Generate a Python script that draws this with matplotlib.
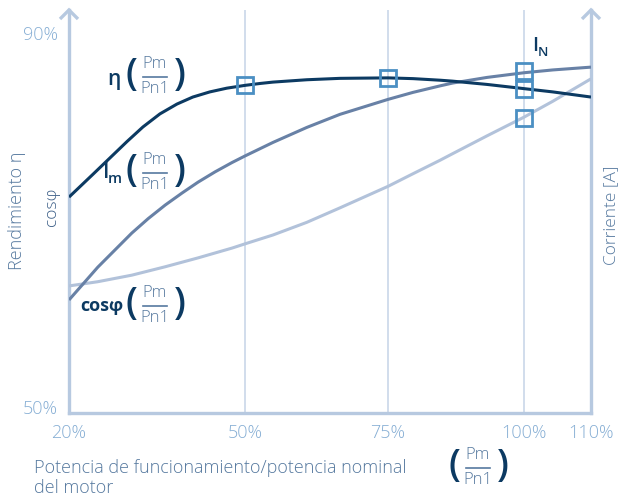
import numpy as np
import matplotlib
matplotlib.use("Agg")
import matplotlib.pyplot as plt
from matplotlib.lines import Line2D

plt.rcParams['font.family'] = ['Open Sans', 'DejaVu Sans']

# ---- data -------------------------------------------------------------
x_ticks = [20, 50, 75, 100, 110]
x_tick_labels = ["20%", "50%", "75%", "100%", "110%"]
y_ticks = [50, 90]
y_tick_labels = ["50%", "90%"]

eta_x = [20, 24.1, 27.0, 29.9, 32.6, 35.5, 38.4, 41.1, 44.0, 46.9, 50, 52.6,
         54.9, 60.8, 66.6, 75, 79.6, 84.6, 86.9, 93.2, 100, 104.3, 110]
eta_y = [72.45, 74.9, 76.65, 78.4, 79.95, 81.35, 82.4, 83.15, 83.7, 84.1, 84.4, 84.6,
         84.75, 85.0, 85.15, 85.2, 85.12, 84.95, 84.85, 84.5, 84.05, 83.7, 83.15]

im_x = [20, 24.9, 30.7, 33.5, 36.4, 39.3, 42.0, 44.9, 47.8, 50, 54.9, 60.8,
        66.6, 75, 79.6, 84.6, 86.9, 93.2, 100, 104.3, 110]
im_y = [61.45, 64.95, 68.6, 70.15, 71.6, 72.9, 74.05, 75.15, 76.15, 76.85, 78.3, 79.9,
        81.3, 82.9, 83.65, 84.35, 84.65, 85.25, 85.75, 86.05, 86.35]

cos_x = [20, 24.9, 30.7, 36.4, 42.0, 47.8, 50, 54.9, 60.8, 66.6, 75, 79.6,
         84.6, 86.9, 93.2, 100, 104.3, 110]
cos_y = [62.95, 63.4, 64.1, 65.0, 65.95, 67.0, 67.45, 68.4, 69.75, 71.3, 73.6, 74.95,
         76.4, 77.1, 79.0, 81.0, 82.7, 85.1]

mark_x = [50, 75, 100, 100, 100]
mark_y = [84.4, 85.2, 85.95, 84.0, 80.9]

# ---- styling ----------------------------------------------------------
W, H = 620, 497
C_ETA = "#0c3a62"
C_IM = "#6881a6"
C_COS = "#b2c2da"
C_SPINE = "#b7c9e0"
C_GRID = "#c9d7e9"
C_TICK = "#86aed4"
C_MARK = "#4b8fc3"
C_TXT = "#56799f"
C_DARK = "#0c3a62"
LIGHT = 300

fig = plt.figure(figsize=(W / 100, H / 100), dpi=100)
ax = fig.add_axes([69 / W, 1 - 413 / H, (591 - 69) / W, (413 - 10) / H])

# piecewise x scale matching the reference axis
kx = [-1000, 20, 50, 75, 100, 110, 1000]
kp = [69 - 1020 * 5.867, 69, 245, 388, 524, 591, 591 + 890 * 6.7]
ax.set_xscale('function', functions=(lambda v: np.interp(v, kx, kp),
                                     lambda p: np.interp(p, kp, kx)))
ax.set_xlim(20, 110)
ax.set_ylim(49.36, 92.46)

for v in [50, 75, 100]:
    ax.axvline(v, color=C_GRID, lw=1.2, zorder=1)

for xs, ys, c, z in [(cos_x, cos_y, C_COS, 3), (im_x, im_y, C_IM, 3),
                     (eta_x, eta_y, C_ETA, 4)]:
    ax.plot(xs, ys, color=c, lw=2.2, zorder=z, solid_capstyle='butt',
            solid_joinstyle='round')
ax.plot(mark_x, mark_y, ls='none', marker='s', ms=12, mfc='none',
        mec=C_MARK, mew=2.0, zorder=5, clip_on=False)

ax.spines['top'].set_visible(False)
for s in ['left', 'right', 'bottom']:
    ax.spines[s].set_color(C_SPINE)
    ax.spines[s].set_linewidth(2.4)

ax.set_xticks(x_ticks)
ax.set_xticklabels(x_tick_labels, fontweight=LIGHT)
ax.set_yticks(y_ticks)
ax.set_yticklabels(y_tick_labels, fontweight=LIGHT)
ax.tick_params(axis='both', length=0, colors=C_TICK, labelsize=13)
ax.tick_params(axis='x', pad=8)
ax.tick_params(axis='y', pad=8)
ax.xaxis.set_minor_locator(plt.NullLocator())


def px(x, y):
    return x / W, 1 - y / H


# arrowheads on the vertical axes
for xc in [69, 591]:
    xs = [xc - 9, xc, xc + 9]
    ys = [19, 10, 19]
    fx = [px(a, b)[0] for a, b in zip(xs, ys)]
    fy = [px(a, b)[1] for a, b in zip(xs, ys)]
    fig.add_artist(Line2D(fx, fy, color=C_SPINE, lw=2.4,
                          solid_capstyle='butt', solid_joinstyle='miter'))


def frac(xc, yc, fs=12, pfs=27):
    fig.text(*px(xc - 24, yc - 2), "(", fontsize=pfs, color=C_DARK,
             ha='center', va='center', fontweight='semibold')
    fig.text(*px(xc + 25, yc - 2), ")", fontsize=pfs, color=C_DARK,
             ha='center', va='center', fontweight='semibold')
    fig.text(*px(xc, yc - 13), "Pm", fontsize=fs, color=C_TXT,
             ha='center', va='center', fontweight=LIGHT)
    fig.text(*px(xc, yc + 12), "Pn1", fontsize=fs, color=C_TXT,
             ha='center', va='center', fontweight=LIGHT)
    fig.add_artist(Line2D([px(xc - 12, 0)[0], px(xc + 12, 0)[0]],
                          [px(0, yc)[1], px(0, yc)[1]], color=C_TXT, lw=1.2))


# curve labels
fig.text(*px(114, 79), "η", fontsize=15, color=C_DARK, ha='center',
         va='center', fontweight='semibold')
frac(155, 77)

fig.text(*px(106, 173), "I", fontsize=15, color=C_DARK, ha='center',
         va='center', fontweight='semibold')
fig.text(*px(115, 179), "m", fontsize=10.5, color=C_DARK, ha='center',
         va='center', fontweight='semibold')
frac(155, 173)

fig.text(*px(102, 306), "cosφ", fontsize=13, color=C_DARK, ha='center',
         va='center', fontweight='bold')
frac(155, 306)

fig.text(*px(535, 46), "I", fontsize=14, color=C_DARK, ha='center',
         va='center', fontweight='semibold')
fig.text(*px(543, 52), "N", fontsize=9.5, color=C_DARK, ha='center',
         va='center', fontweight='semibold')

# axis titles
fig.text(*px(17, 211), "Rendimiento η", fontsize=13, color=C_TXT,
         rotation=90, ha='center', va='center', fontweight=LIGHT)
fig.text(*px(52, 207), "cosφ", fontsize=12.5, color="#3f6189",
         rotation=90, ha='center', va='center', fontweight=LIGHT)
fig.text(*px(611, 215), "Corriente [A]", fontsize=12.5, color=C_TXT,
         rotation=90, ha='center', va='center', fontweight=LIGHT)
fig.text(*px(34, 478), "Potencia de funcionamiento/potencia nominal\ndel motor",
         fontsize=13, color=C_TXT, ha='left', va='center', linespacing=1.15,
         fontweight=LIGHT)
frac(478, 468)

fig.savefig("out.png", dpi=100)
